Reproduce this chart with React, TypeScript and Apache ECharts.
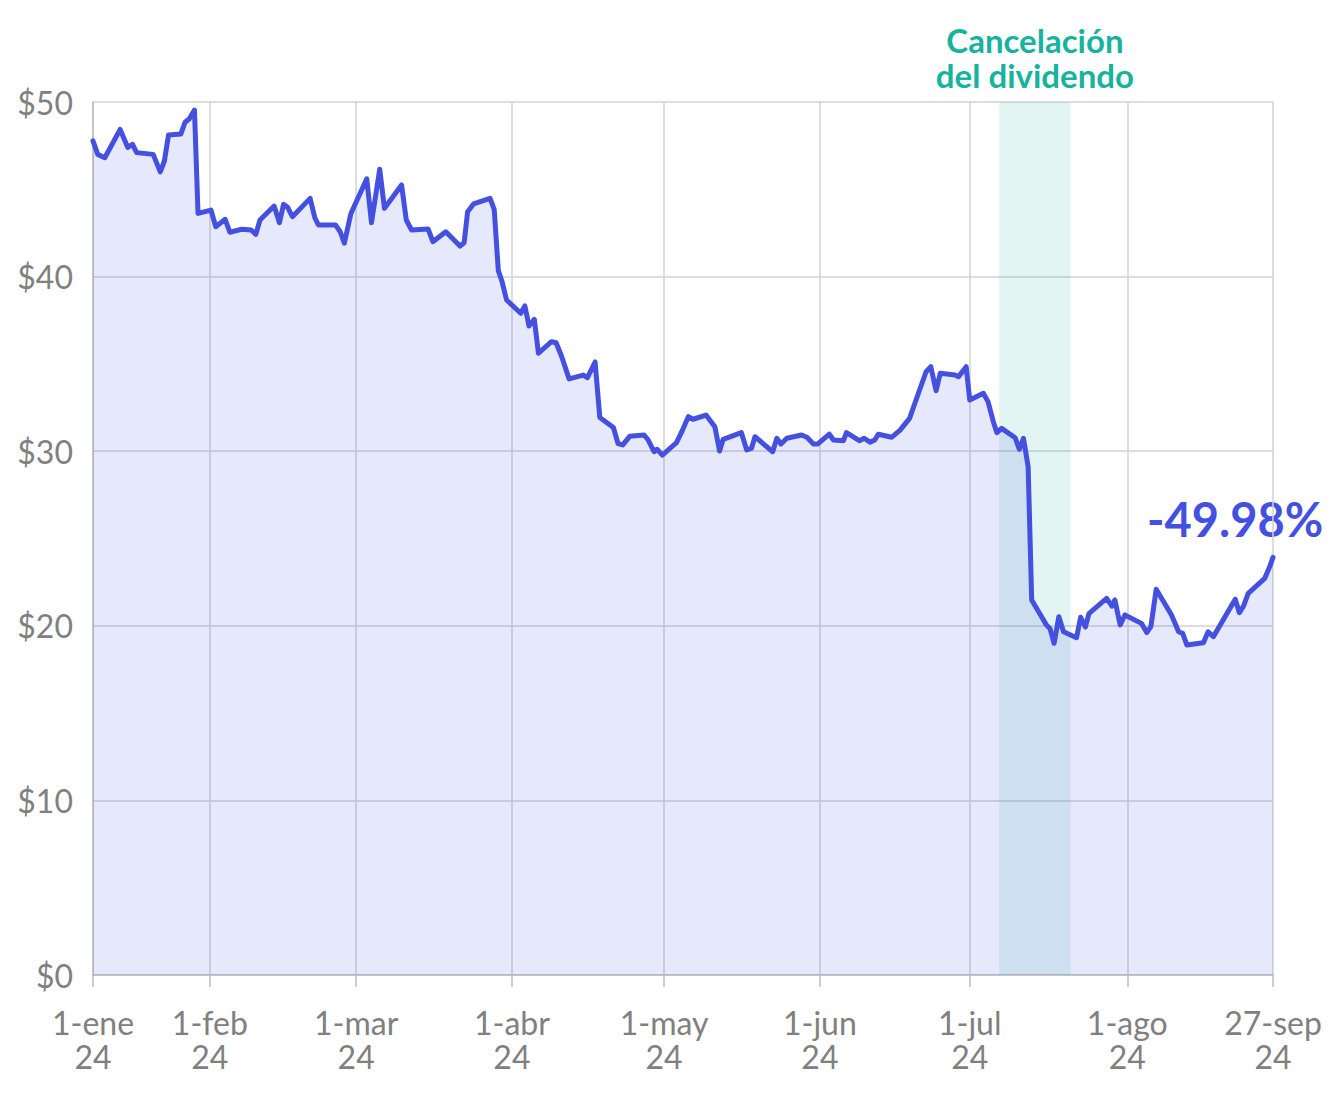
import React, { useEffect, useRef } from "react";
import * as echarts from "echarts";

// x position along the (irregular) session scale, 0 = 1-ene-24, 200 = 27-sep-24
const xIdx = [
  0, 0.8, 2.0, 4.6, 5.9, 6.7, 7.4, 10.2, 11.4, 12.1, 12.8, 14.9, 15.6, 16.3, 17.2, 17.8,
  20.0, 20.8, 22.4, 23.2, 25.2, 26.8, 27.6, 28.3, 30.7, 31.6, 32.3, 33.0, 33.8, 36.8, 37.6,
  38.2, 41.1, 41.9, 42.6, 43.7, 46.4, 47.2, 48.6, 49.4, 52.3, 53.1, 54.0, 56.8, 57.6, 59.8,
  62.2, 62.9, 63.5, 64.5, 67.3, 68.0, 68.7, 69.3, 70.1, 72.5, 73.2, 73.9, 74.8, 75.5, 77.7,
  78.5, 79.4, 80.7, 83.1, 83.8, 85.1, 85.9, 88.2, 89.0, 89.8, 91.0, 93.4, 94.1, 95.1, 95.6,
  96.5, 98.9, 99.8, 100.9, 101.7, 103.9, 105.4, 106.2, 106.8, 109.9, 110.8, 111.6, 112.2,
  115.2, 115.9, 116.6, 117.6, 120.1, 121.0, 122.1, 122.8, 124.8, 125.5, 127.2, 127.7, 129.9,
  130.7, 131.7, 132.5, 133.1, 135.4, 136.8, 138.4, 139.9, 141.2, 142.0, 142.9, 143.6, 146.1,
  146.7, 148.0, 148.6, 150.9, 151.7, 152.6, 153.2, 154.0, 156.3, 157.0, 157.7, 158.5, 159.1,
  161.6, 162.2, 162.9, 163.7, 164.5, 166.7, 167.4, 168.2, 168.8, 170.7, 171.8, 172.7, 173.2,
  174.1, 174.9, 177.7, 178.6, 179.3, 180.2, 182.8, 184.0, 184.7, 185.4, 188.2, 189.0, 189.9,
  193.6, 194.3, 195.0, 195.8, 198.6, 199.4, 200,
];

const prices = [
  47.77, 47.0, 46.81, 48.43, 47.4, 47.57, 47.1, 47.0, 46.0, 46.62, 48.11, 48.17, 48.84, 49.03, 49.54, 43.62,
  43.81, 42.86, 43.28, 42.54, 42.71, 42.67, 42.42, 43.24, 44.04, 43.09, 44.14, 43.97, 43.43, 44.48, 43.37,
  42.96, 42.96, 42.57, 41.91, 43.6, 45.6, 43.09, 46.15, 43.91, 45.25, 43.24, 42.67, 42.73, 42.0, 42.57,
  41.75, 41.94, 43.72, 44.16, 44.48, 43.85, 40.34, 39.75, 38.66, 37.9, 38.32, 37.17, 37.55, 35.61, 36.27,
  36.21, 35.45, 34.14, 34.36, 34.21, 35.11, 31.93, 31.36, 30.43, 30.36, 30.86, 30.93, 30.64, 29.97, 30.11,
  29.78, 30.49, 31.12, 31.98, 31.83, 32.07, 31.4, 30.01, 30.68, 31.06, 30.07, 30.16, 30.83,
  29.97, 30.74, 30.41, 30.74, 30.93, 30.8, 30.41, 30.41, 30.98, 30.64, 30.6, 31.06, 30.6,
  30.74, 30.52, 30.64, 30.97, 30.8, 31.21, 31.88, 33.32, 34.55, 34.84, 33.47, 34.46, 34.36,
  34.27, 34.84, 32.93, 33.32, 32.84, 31.69, 31.06, 31.31, 30.77, 30.11, 30.74, 29.11, 21.48,
  20.05, 19.85, 19.0, 20.52, 19.66, 19.32, 20.49, 19.93, 20.7, 21.25, 21.57, 21.13, 21.48,
  20.05, 20.62, 20.14, 19.61, 19.95, 22.09, 20.62, 19.66, 19.57, 18.9, 19.03, 19.66, 19.38,
  21.52, 20.75, 21.13, 21.86, 22.72, 23.35, 23.92,
];

const tickPos = [0, 19.8, 44.6, 71.0, 96.8, 123.2, 148.6, 175.3, 200];
const tickLabels = [
  "1-ene\n24", "1-feb\n24", "1-mar\n24", "1-abr\n24", "1-may\n24",
  "1-jun\n24", "1-jul\n24", "1-ago\n24", "27-sep\n24",
];

const bandRange = [153.6, 165.7];
const bandLabel = "Cancelación\ndel dividendo";
const changeLabel = "-49.98%";

const FONT = "Lato, 'Noto Sans', sans-serif";
const LINE_BLUE = "#4350e0";
const TEAL = "#17b39d";
const GRID = "#d2d2d2";
const LABEL = "#808080";

export default function App() {
  const ref = useRef<HTMLDivElement>(null);

  useEffect(() => {
    if (!ref.current) return;
    const chart = echarts.init(ref.current, null, { renderer: "svg" });
    const data = xIdx.map((x, i) => [x, prices[i]]);

    chart.setOption({
      animation: false,
      textStyle: { fontFamily: FONT },
      grid: { left: 93, right: 61, top: 102, bottom: 125, containLabel: false },
      xAxis: {
        type: "value",
        min: 0,
        max: 200,
        axisLine: { show: true, lineStyle: { color: "#bdbdbd", width: 1.5 } },
        axisTick: {
          show: true,
          customValues: tickPos,
          length: 12,
          lineStyle: { color: "#bdbdbd", width: 1.5 },
        },
        axisLabel: {
          customValues: tickPos,
          formatter: (v: number) => {
            const i = tickPos.findIndex((t) => Math.abs(t - v) < 0.01);
            return i >= 0 ? tickLabels[i] : "";
          },
          color: LABEL,
          fontSize: 32,
          lineHeight: 34,
          margin: 30,
          fontFamily: FONT,
        },
        splitLine: { show: true, lineStyle: { color: GRID, width: 1.5 } },
      },
      yAxis: {
        type: "value",
        min: 0,
        max: 50,
        interval: 10,
        axisLine: { show: true, lineStyle: { color: "#bdbdbd", width: 1.5 } },
        axisTick: { show: false },
        axisLabel: {
          formatter: (v: number) => "$" + v,
          color: LABEL,
          fontSize: 32,
          margin: 20,
          fontFamily: FONT,
        },
        splitLine: { show: true, lineStyle: { color: GRID, width: 1.5 } },
      },
      series: [
        {
          type: "line",
          data,
          symbol: "none",
          z: 1,
          lineStyle: { width: 0 },
          areaStyle: { color: "rgba(67,80,224,0.19)" },
          silent: true,
        },
        {
          type: "line",
          data: [],
          z: 2,
          silent: true,
          markArea: {
            silent: true,
            itemStyle: { color: "rgba(24,175,155,0.12)" },
            label: {
              show: true,
              position: "top",
              distance: 10,
              formatter: bandLabel,
              color: TEAL,
              fontSize: 33,
              fontWeight: "bold",
              lineHeight: 35,
              fontFamily: FONT,
              align: "center",
            },
            data: [[{ xAxis: bandRange[0] }, { xAxis: bandRange[1] }]],
          },
        },
        {
          type: "line",
          data,
          symbol: "none",
          z: 3,
          lineStyle: { color: LINE_BLUE, width: 5, join: "round", cap: "round" },
          silent: true,
        },
      ],
      graphic: [
        {
          type: "text",
          left: 1147,
          top: 495,
          style: {
            text: changeLabel,
            fill: LINE_BLUE,
            font: `bold 47px ${FONT}`,
          },
        },
      ],
    });

    return () => chart.dispose();
  }, []);

  return <div ref={ref} style={{ width: 1334, height: 1100, margin: -8 }} />;
}
